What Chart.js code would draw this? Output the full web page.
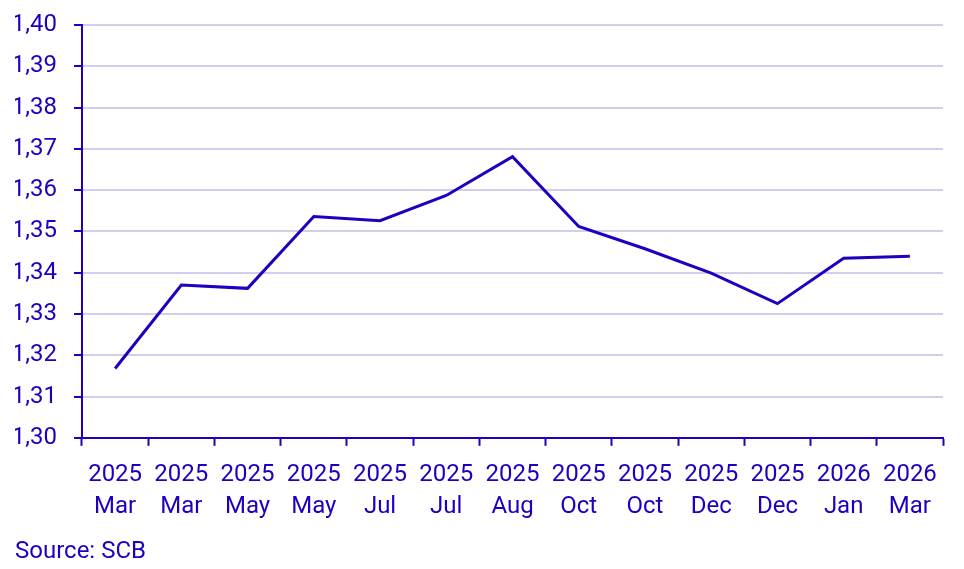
<!DOCTYPE html>
<html>
<head>
<meta charset="utf-8">
<script src="https://cdn.jsdelivr.net/npm/chart.js@4/dist/chart.umd.min.js"></script>
<style>
  html, body { margin: 0; padding: 0; background: #fff; }
  #wrap { width: 964px; height: 569px; position: relative; }
</style>
</head>
<body>
<div id="wrap"><canvas id="chart"></canvas></div>
<script>
// data
const years = ['2025', '2025', '2025', '2025', '2025', '2025', '2025', '2025', '2025', '2025', '2025', '2026', '2026'];
const months = ['Mar', 'Mar', 'May', 'May', 'Jul', 'Jul', 'Aug', 'Oct', 'Oct', 'Dec', 'Dec', 'Jan', 'Mar'];
const values = [1.3168, 1.3370, 1.3362, 1.3536, 1.3526, 1.3587, 1.3681, 1.3512, 1.3458, 1.3399, 1.3325, 1.3435, 1.3440];
const yMin = 1.30;
const yMax = 1.40;
const yStep = 0.01;
const source = 'Source: SCB';

const blue = '#1e00be';
const gridColor = '#d0cdee';

const labels = years.map((y, i) => [y, months[i]]);

new Chart(document.getElementById('chart'), {
    type: 'line',
    data: {
        labels: labels,
        datasets: [{
            data: values,
            borderColor: blue,
            borderWidth: 3,
            pointRadius: 0,
            tension: 0,
            fill: false
        }]
    },
    options: {
        responsive: true,
        maintainAspectRatio: false,
        animation: false,
        layout: { padding: { left: 15, right: 21, top: 25, bottom: 0 } },
        plugins: {
            legend: { display: false },
            tooltip: { enabled: false },
            title: {
                display: true,
                text: source,
                position: 'bottom',
                align: 'start',
                color: blue,
                font: { family: 'Roboto', size: 24, weight: 'normal', lineHeight: 1.2 },
                padding: { top: 1.4, bottom: 3 }
            }
        },
        scales: {
            x: {
                offset: true,
                grid: {
                    offset: true,
                    drawOnChartArea: false,
                    drawTicks: true,
                    tickLength: 8,
                    tickWidth: 2,
                    tickColor: blue
                },
                border: { display: true, color: blue, width: 2 },
                ticks: {
                    color: blue,
                    font: { family: 'Roboto', size: 24, lineHeight: 1.3333 },
                    padding: 13,
                    maxRotation: 0,
                    autoSkip: false
                }
            },
            y: {
                min: yMin,
                max: yMax,
                afterFit: scale => {
                    scale.width = 67;
                    scale.paddingTop = 0;
                    scale.paddingBottom = 0;
                },
                grid: {
                    color: gridColor,
                    lineWidth: 2,
                    drawTicks: true,
                    tickLength: 8,
                    tickWidth: 2,
                    tickColor: blue
                },
                border: { display: true, color: blue, width: 2 },
                ticks: {
                    stepSize: yStep,
                    color: blue,
                    font: { family: 'Roboto', size: 24 },
                    padding: 17,
                    callback: v => v.toFixed(2).replace('.', ',')
                }
            }
        }
    }
});
</script>
</body>
</html>
